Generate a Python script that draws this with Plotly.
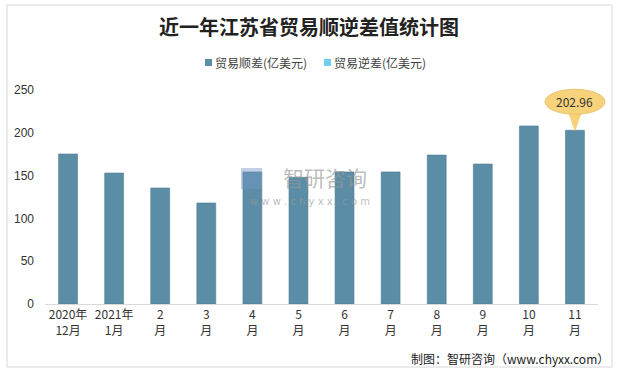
import plotly.graph_objects as go

categories = ["2020年<br>12月", "2021年<br>1月", "2<br>月", "3<br>月", "4<br>月", "5<br>月",
              "6<br>月", "7<br>月", "8<br>月", "9<br>月", "10<br>月", "11<br>月"]
surplus = [175.2, 153.0, 135.5, 118.0, 154.3, 148.0, 154.3, 154.3, 174.0, 163.5, 208.0, 202.96]
deficit = [None] * len(categories)
series_names = ["贸易顺差(亿美元)", "贸易逆差(亿美元)"]
series_colors = ["#5b8ea6", "#6fcdf4"]
highlight_index = 11
y_ticks = [0, 50, 100, 150, 200, 250]
y_range = [0, 250]

W, H = 618, 372
ML, MR, MT, MB = 45, 20, 90, 68
PW, PH = W - ML - MR, H - MT - MB

def px_x(p):
    return (p - ML) / PW

def px_y(p):
    return (H - MB - p) / PH

FONT = "Noto Sans CJK SC"

fig = go.Figure()
fig.add_trace(go.Bar(x=categories, y=surplus, name=series_names[0],
                     marker=dict(color=series_colors[0], line=dict(color="#4d7d93", width=0.6)),
                     width=0.41, hoverinfo="x+y", showlegend=False))
fig.add_trace(go.Bar(x=categories, y=deficit, name=series_names[1],
                     marker=dict(color=series_colors[1]), width=0.41, showlegend=False))

# Outer border
fig.add_shape(type="rect", xref="paper", yref="paper",
              x0=px_x(7), x1=px_x(612), y0=px_y(367), y1=px_y(5),
              line=dict(color="#d9d9d9", width=1), fillcolor="rgba(0,0,0,0)", layer="below")

# Legend (drawn manually for compact spacing)
legend_starts = [205, 324]
for name, color, lx in zip(series_names, series_colors, legend_starts):
    fig.add_shape(type="rect", xref="paper", yref="paper",
                  x0=px_x(lx), x1=px_x(lx + 7), y0=px_y(66), y1=px_y(59),
                  fillcolor=color, line=dict(width=0))
    fig.add_annotation(xref="paper", yref="paper", x=px_x(lx + 8), y=px_y(62),
                       xanchor="left", yanchor="middle", showarrow=False, text=name,
                       font=dict(family=FONT, size=12, color="#404040"))

# Callout bubble for highlighted value (paper coords derived from category index / value
# so it may extend past the plot area without clipping)
hx = categories[highlight_index]
hv = surplus[highlight_index]
ax_paper = (highlight_index + 0.5) / len(categories)
ay_paper = (hv - y_range[0]) / (y_range[1] - y_range[0])
fig.add_shape(type="path", xref="paper", yref="paper", xsizemode="pixel", ysizemode="pixel",
              xanchor=ax_paper, yanchor=ay_paper,
              path="M -6 17 L 0 0 L 6 17 Z",
              fillcolor="#f6d27a", line=dict(color="#f6d27a", width=1))
fig.add_shape(type="circle", xref="paper", yref="paper", xsizemode="pixel", ysizemode="pixel",
              xanchor=ax_paper, yanchor=ay_paper,
              x0=-30, x1=30, y0=16, y1=41,
              fillcolor="#f6d27a", line=dict(color="#e8c66e", width=1))
fig.add_annotation(x=hx, y=hv, xref="x", yref="y", yshift=29, showarrow=False,
                   text=f"{hv:.2f}", font=dict(family=FONT, size=12, color="#333333"))

# Watermark
fig.add_annotation(xref="paper", yref="paper", x=px_x(325), y=px_y(177),
                   text="智研咨询", showarrow=False,
                   font=dict(family=FONT, size=21, color="rgba(150,150,150,0.65)"))
fig.add_annotation(xref="paper", yref="paper", x=px_x(310), y=px_y(201),
                   text="w w w . c h y x x . c o m", showarrow=False,
                   font=dict(family="DejaVu Sans", size=10, color="rgba(150,150,150,0.65)"))
fig.add_shape(type="rect", xref="paper", yref="paper",
              x0=px_x(241), x1=px_x(262), y0=px_y(189), y1=px_y(168),
              fillcolor="rgba(120,150,200,0.45)", line=dict(width=0))

# Source note
fig.add_annotation(xref="paper", yref="paper", x=px_x(611), y=px_y(358),
                   xanchor="right", yanchor="middle", showarrow=False,
                   text="制图：智研咨询（www.chyxx.com）",
                   font=dict(family=FONT, size=12, color="#222222"))

fig.update_layout(
    width=W, height=H,
    margin=dict(l=ML, r=MR, t=MT, b=MB, autoexpand=False),
    paper_bgcolor="white", plot_bgcolor="white",
    title=dict(text="<b>近一年江苏省贸易顺逆差值统计图</b>", x=0.5, xanchor="center",
               y=1 - 28 / H, yanchor="middle", yref="container",
               font=dict(family=FONT, size=20, color="#222222")),
    barmode="overlay",
    showlegend=False,
    font=dict(family=FONT, size=12, color="#333333"),
)
fig.update_xaxes(showline=True, linecolor="#d9d9d9", linewidth=1, ticks="", automargin=False,
                 range=[-0.5, len(categories) - 0.5],
                 tickfont=dict(family=FONT, size=12, color="#333333"), showgrid=False)
fig.update_yaxes(range=y_range, tickvals=y_ticks, showgrid=False, zeroline=False,
                 showline=False, ticks="", ticklabelstandoff=10, automargin=False,
                 tickfont=dict(family="Liberation Sans", size=12, color="#333333"))

fig.write_html("out.html", config={"displayModeBar": False},
               post_script="document.body.style.margin='0';document.body.style.overflow='hidden';")
